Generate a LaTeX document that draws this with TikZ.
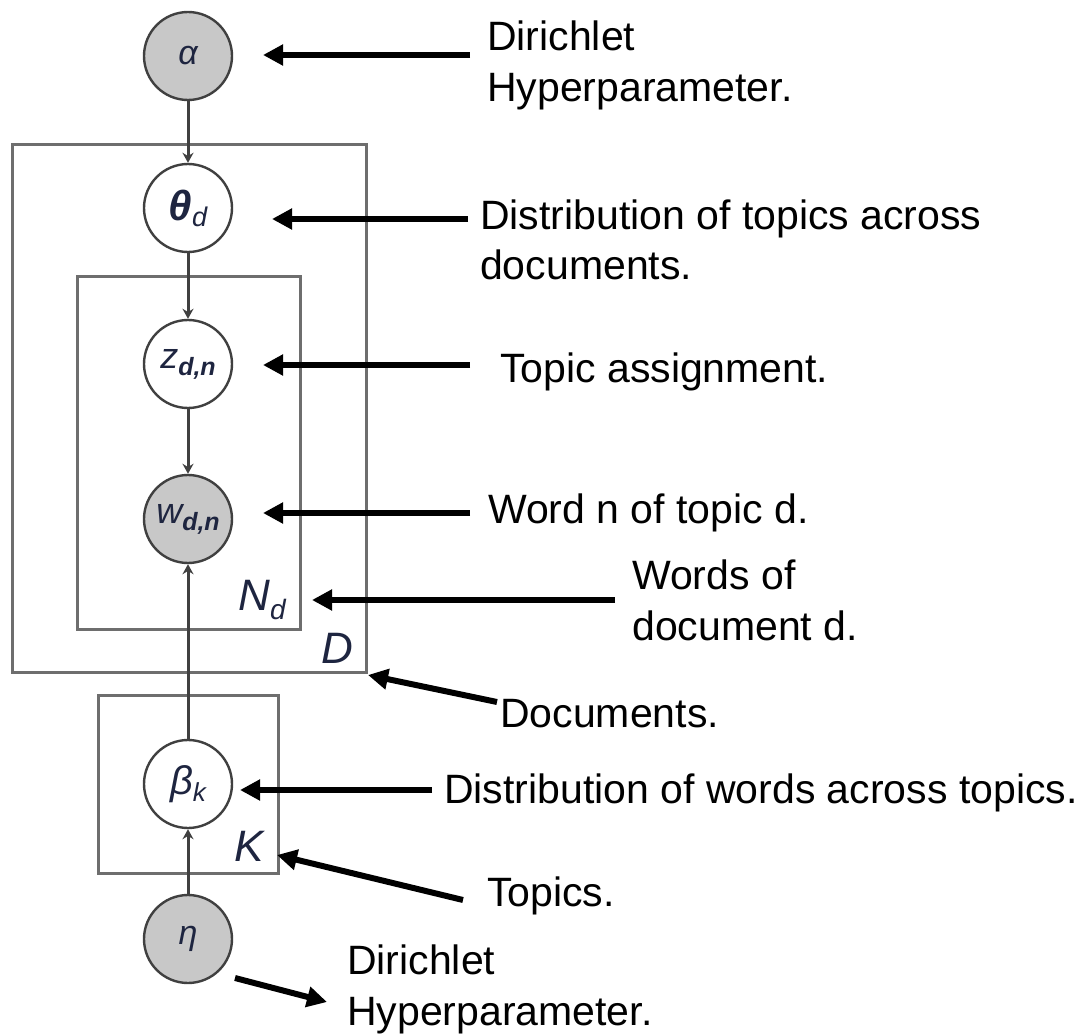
\documentclass[tikz,border=0pt]{standalone}
\usepackage{fontspec}
\setmainfont{Liberation Sans}
\usetikzlibrary{arrows.meta}
\definecolor{fillg}{HTML}{C8C8C8}
\definecolor{edgeg}{HTML}{404040}
\definecolor{plateg}{HTML}{6E6E6E}
\definecolor{lblc}{HTML}{1E2540}
\begin{document}
\begin{tikzpicture}[x=1pt,y=-1pt,
 var/.style={circle,draw=edgeg,line width=2.4pt,minimum size=88pt,inner sep=0pt,fill=white,text=lblc},
 obs/.style={var,fill=fillg},
 plate/.style={draw=plateg,line width=3pt},
 edge/.style={draw=edgeg,line width=3pt,-{Stealth[length=10pt,width=11pt]}},
 ann/.style={line width=6pt,-{Triangle[length=20pt,width=20pt]}},
 txt/.style={anchor=base west,inner sep=0pt,font=\fontsize{41}{51}\selectfont,align=left},
 platelbl/.style={text=lblc,font=\fontsize{44}{44}\selectfont\itshape,inner sep=0pt}
]
\useasboundingbox (0,0) rectangle (1088,1035);
% plates
\draw[plate] (12,145) rectangle (366,672);
\draw[plate] (77,277) rectangle (300,629);
\draw[plate] (98,695) rectangle (278,873);
\node[platelbl] (Nlbl) at (262,600) {N\raisebox{-9pt}{\fontsize{28}{28}\selectfont d}};
\node[platelbl] (Dlbl) at (337,648) {D};
\node[platelbl] (Klbl) at (249,846) {K};
% variables
\node[obs] (alpha) at (188,56) {\fontsize{34}{34}\selectfont\itshape α};
\node[var] (theta) at (188,208) {\fontsize{42}{42}\selectfont\bfseries\itshape θ\fontsize{27}{27}\selectfont\mdseries\raisebox{-6pt}{d}};
\node[var] (z) at (188,364) {\fontsize{36}{36}\selectfont\itshape z\raisebox{-7pt}{\fontsize{25}{25}\selectfont\bfseries d,n}};
\node[obs] (w) at (188,519) {\fontsize{36}{36}\selectfont\itshape w\raisebox{-7pt}{\fontsize{25}{25}\selectfont\bfseries d,n}};
\node[var] (beta) at (188,784) {\fontsize{40}{40}\selectfont\itshape β\raisebox{-7pt}{\fontsize{26}{26}\selectfont k}};
\node[obs] (eta) at (188,939) {\fontsize{34}{34}\selectfont\itshape η};
% edges
\draw[edge] (alpha) -- (theta);
\draw[edge] (theta) -- (z);
\draw[edge] (z) -- (w);
\draw[edge] (beta) -- (w);
\draw[edge] (eta) -- (beta);
% annotation texts
\node[txt] (t1) at (487,102) {Dirichlet\\Hyperparameter.};
\node[txt] (t2) at (480,280) {Distribution of topics across\\documents.};
\node[txt] (t3) at (500,382) {Topic assignment.};
\node[txt] (t4) at (488,523) {Word n of topic d.};
\node[txt] (t5) at (632,640) {Words of\\document d.};
\node[txt] (t6) at (500,727) {Documents.};
\node[txt] (t7) at (444,803) {Distribution of words across topics.};
\node[txt] (t8) at (487,906) {Topics.};
\node[txt] (t9) at (347,1025) {Dirichlet\\Hyperparameter.};
% annotation arrows
\coordinate (a1s) at (470,55);  \coordinate (a1e) at (263,55);
\coordinate (a2s) at (468,219); \coordinate (a2e) at (272,219);
\coordinate (a3s) at (470,365); \coordinate (a3e) at (263,365);
\coordinate (a4s) at (470,513); \coordinate (a4e) at (263,513);
\coordinate (a5s) at (615,600); \coordinate (a5e) at (312,600);
\coordinate (a6s) at (497,702); \coordinate (a6e) at (368,675);
\coordinate (a7s) at (432,790); \coordinate (a7e) at (240,790);
\coordinate (a8s) at (463,900); \coordinate (a8e) at (277,855);
\coordinate (a9s) at (235,978); \coordinate (a9e) at (327,1002);
\draw[ann] (a1s) -- (a1e);
\draw[ann] (a2s) -- (a2e);
\draw[ann] (a3s) -- (a3e);
\draw[ann] (a4s) -- (a4e);
\draw[ann] (a5s) -- (a5e);
\draw[ann] (a6s) -- (a6e);
\draw[ann] (a7s) -- (a7e);
\draw[ann] (a8s) -- (a8e);
\draw[ann] (a9s) -- (a9e);
\end{tikzpicture}
\end{document}
